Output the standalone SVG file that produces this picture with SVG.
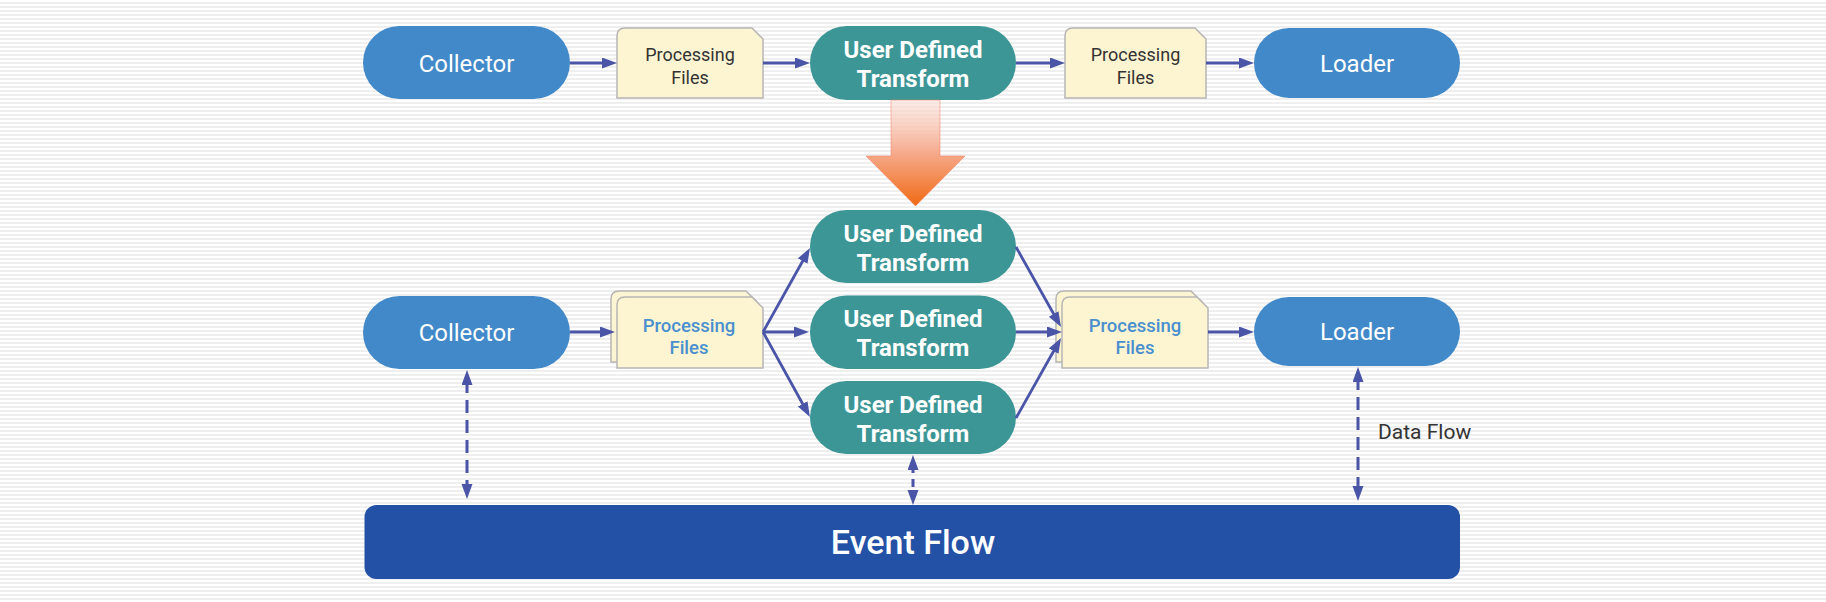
<svg xmlns="http://www.w3.org/2000/svg" width="1826" height="602" viewBox="0 0 1826 602">
  <defs>
    <pattern id="stripes" x="0" y="0" width="4" height="4" patternUnits="userSpaceOnUse">
      <rect x="0" y="0" width="4" height="4" fill="#ffffff"/>
      <rect x="0" y="2" width="4" height="2" fill="#efefef"/>
    </pattern>
    <linearGradient id="orangeGrad" gradientUnits="userSpaceOnUse" x1="0" y1="100" x2="0" y2="206">
      <stop offset="0" stop-color="#fbe0d8" stop-opacity="0.6"/>
      <stop offset="0.5" stop-color="#f6aa8c"/>
      <stop offset="1" stop-color="#f06a14"/>
    </linearGradient>
    <marker id="arrow" markerUnits="userSpaceOnUse" markerWidth="16" markerHeight="12" refX="5" refY="5.5" orient="auto-start-reverse" viewBox="0 0 16 12">
      <path d="M0,0 L15,5.5 L0,11 Z" fill="#4a55a8"/>
    </marker>
    <style>
      .pill-blue { fill: #4189c8; }
      .pill-teal { fill: #3c9696; }
      .doc { fill: #fdf4d2; stroke: #b5b5b5; stroke-width: 1.5; }
      .t-white { fill: #ffffff; font-family: Roboto, "Liberation Sans", sans-serif; text-anchor: middle; }
      .t-node { font-size: 24px; }
      .t-udt { font-size: 24px; font-weight: 700; }
      .t-doc { fill: #333333; font-family: Roboto, "Liberation Sans", sans-serif; font-size: 18px; text-anchor: middle; }
      .t-doc2 { fill: #4a8fcf; font-family: Roboto, "Liberation Sans", sans-serif; font-size: 18.5px; font-weight: 500; text-anchor: middle; }
      .conn { stroke: #4a55a8; stroke-width: 2.8; fill: none; marker-end: url(#arrow); }
      .dash { stroke: #4a55a8; stroke-width: 3; fill: none; stroke-dasharray: 13 7; marker-start: url(#arrow); marker-end: url(#arrow); }
      .label { fill: #333333; font-family: Roboto, "Liberation Sans", sans-serif; font-size: 21px; }
    </style>
  </defs>

  <rect x="0" y="0" width="1826" height="602" fill="url(#stripes)"/>

  <!-- Top row -->
  <g id="collector-top">
    <rect class="pill-blue" x="363" y="26" width="207" height="73" rx="36.5"/>
    <text class="t-white t-node" x="466.5" y="72">Collector</text>
  </g>
  <g id="files-top-1">
    <path class="doc" d="M617,36 Q617,28 625,28 L752,28 L763,39 L763,98 L617,98 Z"/>
    <text class="t-doc" x="690" y="61">Processing</text>
    <text class="t-doc" x="690" y="84">Files</text>
  </g>
  <g id="udt-top">
    <rect class="pill-teal" x="810" y="26" width="206" height="74" rx="37"/>
    <text class="t-white t-udt" x="913" y="58">User Defined</text>
    <text class="t-white t-udt" x="913" y="87">Transform</text>
  </g>
  <g id="files-top-2">
    <path class="doc" d="M1065,36 Q1065,28 1073,28 L1195,28 L1206,39 L1206,98 L1065,98 Z"/>
    <text class="t-doc" x="1135.5" y="61">Processing</text>
    <text class="t-doc" x="1135.5" y="84">Files</text>
  </g>
  <g id="loader-top">
    <rect class="pill-blue" x="1254" y="28" width="206" height="70" rx="35"/>
    <text class="t-white t-node" x="1357" y="72">Loader</text>
  </g>

  <!-- Transition arrow -->
  <g id="transition-arrow">
    <polygon points="891,100 940,100 940,156 965,156 915.5,206 866,156 891,156" fill="url(#orangeGrad)" stroke="#f2785c" stroke-width="0.8" stroke-opacity="0.6"/>
  </g>

  <!-- Bottom diagram -->
  <g id="collector-mid">
    <rect class="pill-blue" x="363" y="296" width="207" height="73" rx="36.5"/>
    <text class="t-white t-node" x="466.5" y="341">Collector</text>
  </g>
  <g id="files-mid-1">
    <path class="doc" d="M611,299 Q611,291 619,291 L746,291 L757,302 L757,362 L611,362 Z"/>
    <path class="doc" d="M617,305 Q617,297 625,297 L752,297 L763,308 L763,368 L617,368 Z"/>
    <text class="t-doc2" x="689" y="331.5">Processing</text>
    <text class="t-doc2" x="689" y="353.5">Files</text>
  </g>
  <g id="udt-1">
    <rect class="pill-teal" x="810" y="210" width="206" height="73" rx="36.5"/>
    <text class="t-white t-udt" x="913" y="241.5">User Defined</text>
    <text class="t-white t-udt" x="913" y="270.5">Transform</text>
  </g>
  <g id="udt-2">
    <rect class="pill-teal" x="810" y="295.5" width="206" height="73.5" rx="36.5"/>
    <text class="t-white t-udt" x="913" y="327">User Defined</text>
    <text class="t-white t-udt" x="913" y="356">Transform</text>
  </g>
  <g id="udt-3">
    <rect class="pill-teal" x="810" y="381" width="206" height="73" rx="36.5"/>
    <text class="t-white t-udt" x="913" y="412.5">User Defined</text>
    <text class="t-white t-udt" x="913" y="441.5">Transform</text>
  </g>
  <g id="files-mid-2">
    <path class="doc" d="M1056,299 Q1056,291 1064,291 L1191,291 L1202,302 L1202,362 L1056,362 Z"/>
    <path class="doc" d="M1062,305 Q1062,297 1070,297 L1197,297 L1208,308 L1208,368 L1062,368 Z"/>
    <text class="t-doc2" x="1135" y="331.5">Processing</text>
    <text class="t-doc2" x="1135" y="353.5">Files</text>
  </g>
  <g id="loader-mid">
    <rect class="pill-blue" x="1254" y="297" width="206" height="69" rx="34.5"/>
    <text class="t-white t-node" x="1357" y="340">Loader</text>
  </g>
  <g id="event-flow">
    <rect x="364.5" y="505" width="1095.5" height="74" rx="12" fill="#2351a6"/>
    <text x="913" y="554" fill="#ffffff" font-family="Roboto, 'Liberation Sans', sans-serif" font-size="34" font-weight="500" text-anchor="middle">Event Flow</text>
  </g>

  <!-- Connectors -->
  <g id="connectors">
    <line class="conn" x1="570" y1="63" x2="607" y2="63"/>
    <line class="conn" x1="763" y1="63" x2="800" y2="63"/>
    <line class="conn" x1="1016" y1="63" x2="1055" y2="63"/>
    <line class="conn" x1="1206" y1="63" x2="1244" y2="63"/>

    <line class="conn" x1="570" y1="332" x2="605" y2="332"/>
    <line class="conn" x1="763" y1="332" x2="805.1" y2="256.7"/>
    <line class="conn" x1="763" y1="332" x2="799" y2="332"/>
    <line class="conn" x1="763" y1="332" x2="805.1" y2="408.3"/>

    <line class="conn" x1="1016" y1="247" x2="1056.1" y2="318.3"/>
    <line class="conn" x1="1016" y1="332" x2="1052" y2="332"/>
    <line class="conn" x1="1016" y1="418" x2="1056.1" y2="346.7"/>
    <line class="conn" x1="1208" y1="332" x2="1244" y2="332"/>

    <line class="dash" x1="467" y1="380" x2="467" y2="489"/>
    <line class="dash" x1="913" y1="465" x2="913" y2="495" style="stroke-dasharray: 8 6;"/>
    <line class="dash" x1="1358" y1="377" x2="1358" y2="491"/>
    <text class="label" x="1378" y="439">Data Flow</text>
  </g>
</svg>
